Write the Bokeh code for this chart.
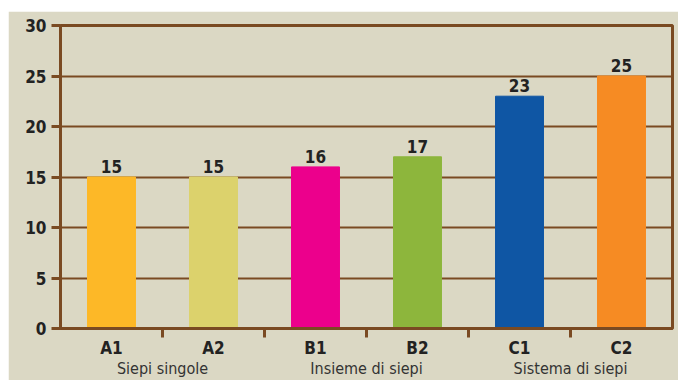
from bokeh.plotting import figure
from bokeh.models import (FixedTicker, LinearAxis, Range1d, Spacer, ColumnDataSource)
from bokeh.layouts import row, column
from bokeh.embed import file_html
from bokeh.resources import INLINE
from bokeh.core.properties import value

categories = ["A1", "A2", "B1", "B2", "C1", "C2"]
values = [15, 15, 16, 17, 23, 25]
colors = ["#fdb827", "#dcd26c", "#ec008c", "#8db63c", "#0f56a4", "#f68b23"]
groups = ["Siepi singole", "Insieme di siepi", "Sistema di siepi"]
y_ticks = [0, 5, 10, 15, 20, 25, 30]

BG = "#dbd8c4"
BROWN = "#7a4a22"
FONT = "'Liberation Sans Narrow', 'DejaVu Sans Condensed', 'Roboto Condensed', sans-serif"

n = len(categories)
xs = [i + 0.5 for i in range(n)]
src = ColumnDataSource(dict(x=xs, top=values, color=colors,
                            label=[str(v) for v in values]))

p = figure(width=670, height=369, output_backend="svg", toolbar_location=None,
           x_range=Range1d(0, n), y_range=Range1d(0, 30),
           min_border_left=52, min_border_right=6, min_border_top=14,
           min_border_bottom=52, x_axis_location=None)
p.background_fill_color = BG
p.border_fill_color = BG
p.outline_line_color = BROWN
p.outline_line_width = 3

p.xgrid.visible = False
p.ygrid.ticker = FixedTicker(ticks=y_ticks)
p.ygrid.grid_line_color = BROWN
p.ygrid.grid_line_width = 2

p.vbar(x="x", top="top", width=0.47, color="color", source=src)
p.text(x="x", y="top", text="label", source=src, text_align="center",
       text_baseline="bottom", y_offset=-4, text_font=value(FONT),
       text_font_style="bold", text_font_size="17px", text_color="#222222")

# y axis
ya = p.yaxis[0]
ya.ticker = FixedTicker(ticks=y_ticks)
ya.axis_line_color = BROWN
ya.axis_line_width = 3
ya.major_tick_line_color = BROWN
ya.major_tick_line_width = 3
ya.major_tick_out = 9
ya.major_tick_in = 0
ya.minor_tick_line_color = None
ya.major_label_text_font = FONT
ya.major_label_text_font_style = "bold"
ya.major_label_text_font_size = "17px"
ya.major_label_text_color = "#222222"
ya.major_label_standoff = 5

# category axis
xa = LinearAxis(ticker=FixedTicker(ticks=xs, minor_ticks=list(range(1, n))))
xa.major_label_overrides = {x: c for x, c in zip(xs, categories)}
xa.axis_line_color = BROWN
xa.axis_line_width = 3
xa.major_tick_line_color = None
xa.major_tick_out = 0
xa.major_tick_in = 0
xa.minor_tick_line_color = BROWN
xa.minor_tick_line_width = 3
xa.minor_tick_out = 9
xa.minor_tick_in = 0
xa.major_label_text_font = FONT
xa.major_label_text_font_style = "bold"
xa.major_label_text_font_size = "17px"
xa.major_label_text_color = "#222222"
xa.major_label_standoff = 0
p.add_layout(xa, "below")

# group axis
gticks = [1.0, 3.0, 5.0]
ga = LinearAxis(ticker=FixedTicker(ticks=gticks, minor_ticks=[]))
ga.major_label_overrides = {x: g for x, g in zip(gticks, groups)}
ga.axis_line_color = None
ga.major_tick_line_color = None
ga.minor_tick_line_color = None
ga.major_tick_out = 0
ga.major_tick_in = 0
ga.major_label_text_font = FONT
ga.major_label_text_font_size = "16px"
ga.major_label_text_color = "#333333"
ga.major_label_standoff = -2
p.add_layout(ga, "below")

layout = row(Spacer(width=8, height=383),
             column(Spacer(width=670, height=11), p))

open("out.html", "w").write(file_html(layout, INLINE))
